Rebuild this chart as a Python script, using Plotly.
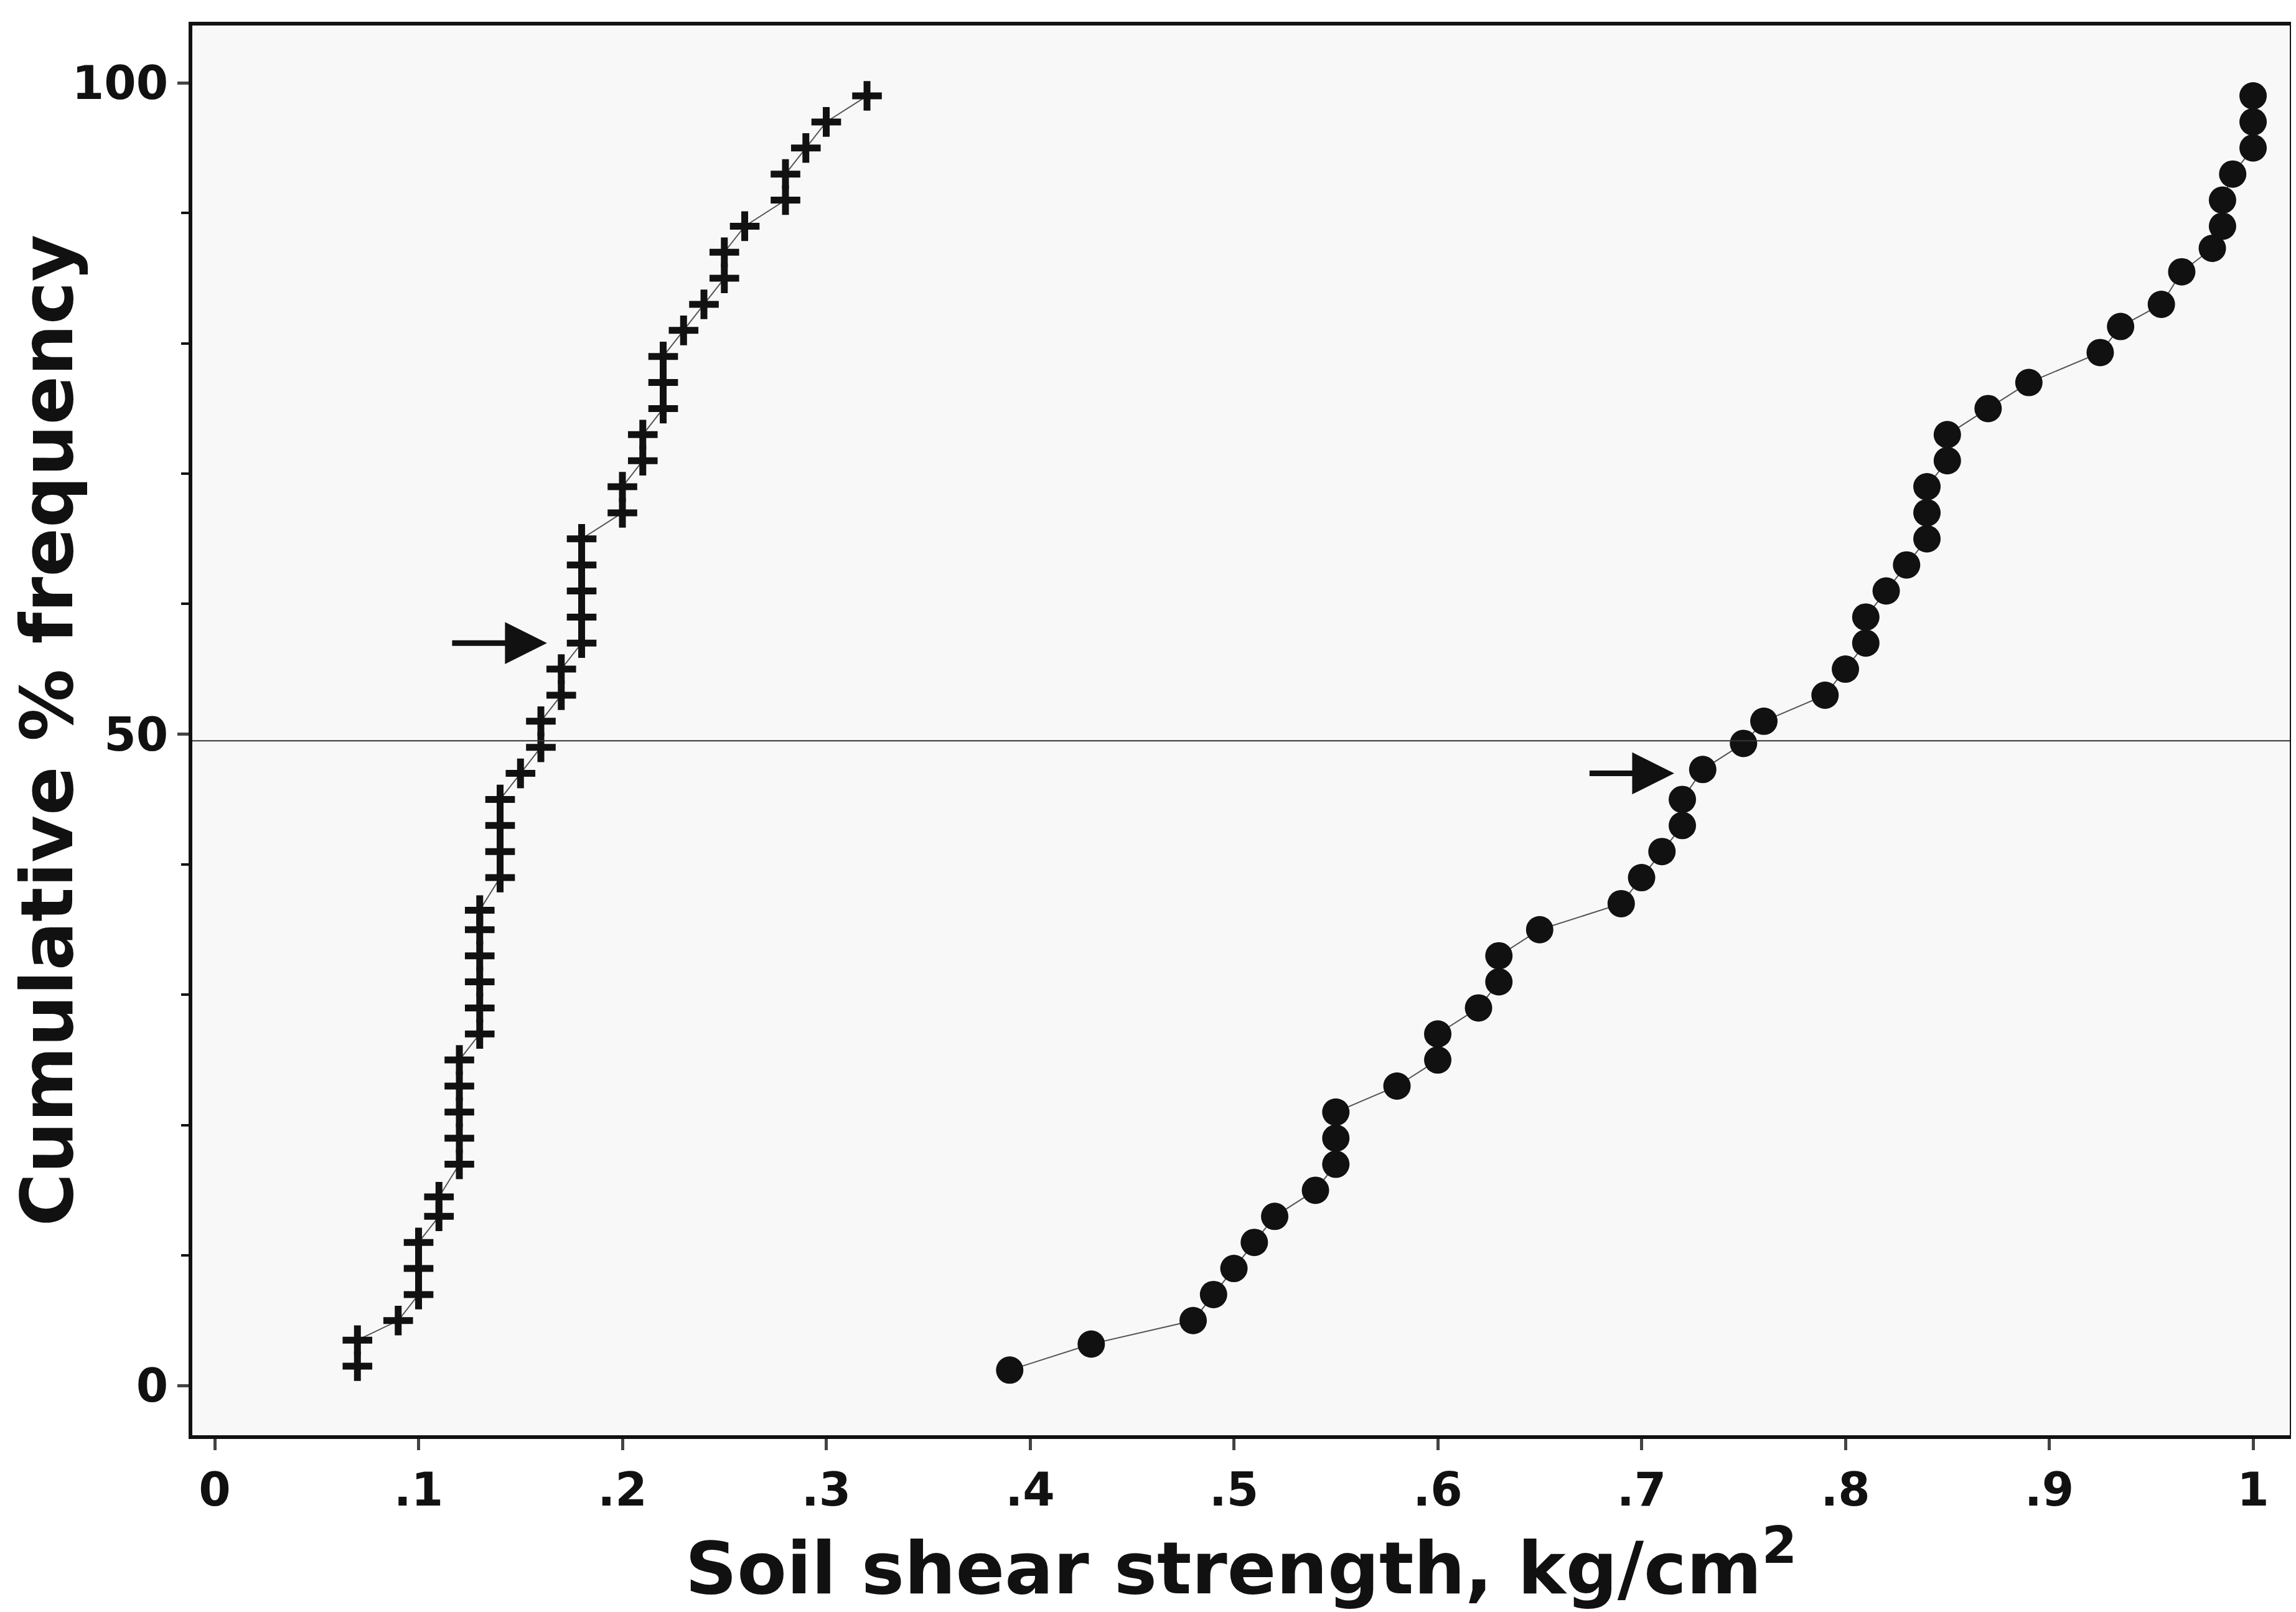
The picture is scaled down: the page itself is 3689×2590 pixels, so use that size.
import plotly.graph_objects as go

# left series (crosses)
cross_x = [0.07, 0.07, 0.09, 0.10, 0.10, 0.10, 0.11, 0.11, 0.12, 0.12, 0.12, 0.12, 0.12,
           0.13, 0.13, 0.13, 0.13, 0.13, 0.13, 0.14, 0.14, 0.14, 0.14, 0.15, 0.16, 0.16,
           0.17, 0.17, 0.18, 0.18, 0.18, 0.18, 0.18, 0.20, 0.20, 0.21, 0.21, 0.22, 0.22,
           0.22, 0.23, 0.24, 0.25, 0.25, 0.26, 0.28, 0.28, 0.29, 0.30, 0.32]
cross_y = [1.5, 3.5, 5, 7, 9, 11, 13, 14.5, 17, 19, 21, 23, 25, 27, 29, 31, 33, 35, 36.5,
           39, 41, 43, 45, 47, 49, 51, 53, 55, 57, 59, 61, 63, 65, 67, 69, 71, 73, 75, 77,
           79, 81, 83, 85, 87, 89, 91, 93, 95, 97, 99]

# right series (dots)
dot_x = [0.39, 0.43, 0.48, 0.49, 0.50, 0.51, 0.52, 0.54, 0.55, 0.55, 0.55, 0.58, 0.60,
         0.60, 0.62, 0.63, 0.63, 0.65, 0.69, 0.70, 0.71, 0.72, 0.72, 0.73, 0.75, 0.76,
         0.79, 0.80, 0.81, 0.81, 0.82, 0.83, 0.84, 0.84, 0.84, 0.85, 0.85, 0.87, 0.89,
         0.925, 0.935, 0.955, 0.965, 0.98, 0.985, 0.985, 0.99, 1.0, 1.0, 1.0]
dot_y = [1.2, 3.2, 5, 7, 9, 11, 13, 15, 17, 19, 21, 23, 25, 27, 29, 31, 33, 35, 37, 39,
         41, 43, 45, 47.3, 49.3, 51, 53, 55, 57, 59, 61, 63, 65, 67, 69, 71, 73, 75, 77,
         79.3, 81.3, 83, 85.5, 87.3, 89, 91, 93, 95, 97, 99]

x_ticks = [0, 0.1, 0.2, 0.3, 0.4, 0.5, 0.6, 0.7, 0.8, 0.9, 1]
x_labels = ["0", ".1", ".2", ".3", ".4", ".5", ".6", ".7", ".8", ".9", "1"]
y_ticks = [0, 50, 100]

# median markers: (tail x, head x, y)
arrows = [(0.116, 0.163, 57), (0.674, 0.716, 47)]

font = "DejaVu Sans"

fig = go.Figure()
fig.add_trace(go.Scatter(
    x=cross_x, y=cross_y, mode="lines+markers",
    line=dict(color="#555555", width=2),
    marker=dict(symbol="cross-thin", size=34, line=dict(color="#111111", width=11)),
))
fig.add_trace(go.Scatter(
    x=dot_x, y=dot_y, mode="lines+markers",
    line=dict(color="#555555", width=2),
    marker=dict(symbol="circle", size=44, color="#111111"),
))

fig.add_hline(y=49.5, line=dict(color="#333333", width=2))

for x0, x1, y in arrows:
    fig.add_annotation(x=x1, y=y, ax=x0, ay=y, xref="x", yref="y", axref="x", ayref="y",
                       showarrow=True, arrowhead=2, arrowsize=1.5, arrowwidth=9,
                       arrowcolor="#111111", text="")

fig.update_layout(
    width=3689, height=2590,
    margin=dict(l=301, r=14, t=33, b=292),
    paper_bgcolor="white", plot_bgcolor="#f8f8f8",
    showlegend=False,
    font=dict(family=font, color="#111111"),
)
fig.update_xaxes(
    range=[-0.011, 1.018], tickvals=x_ticks, ticktext=x_labels,
    ticks="outside", ticklen=18, tickwidth=5, showgrid=False, zeroline=False,
    showline=True, linewidth=6, linecolor="#111111", mirror=True,
    tickfont=dict(size=74, family=font, weight="bold"),
    title=dict(text="<b>Soil shear strength, kg/cm<sup>2</sup></b>",
               font=dict(size=116, family=font), standoff=6),
)
fig.update_yaxes(
    range=[-3.8, 104.4], tickvals=y_ticks,
    ticks="outside", ticklen=18, tickwidth=5, showgrid=False, zeroline=False,
    minor=dict(tickvals=[10, 20, 30, 40, 60, 70, 80, 90], ticks="outside",
               ticklen=12, tickwidth=4, tickcolor="#111111"),
    showline=True, linewidth=6, linecolor="#111111", mirror=True,
    tickfont=dict(size=74, family=font, weight="bold"),
    title=dict(text="<b>Cumulative % frequency</b>",
               font=dict(size=116, family=font), standoff=4),
)

fig.write_html("out.html")
